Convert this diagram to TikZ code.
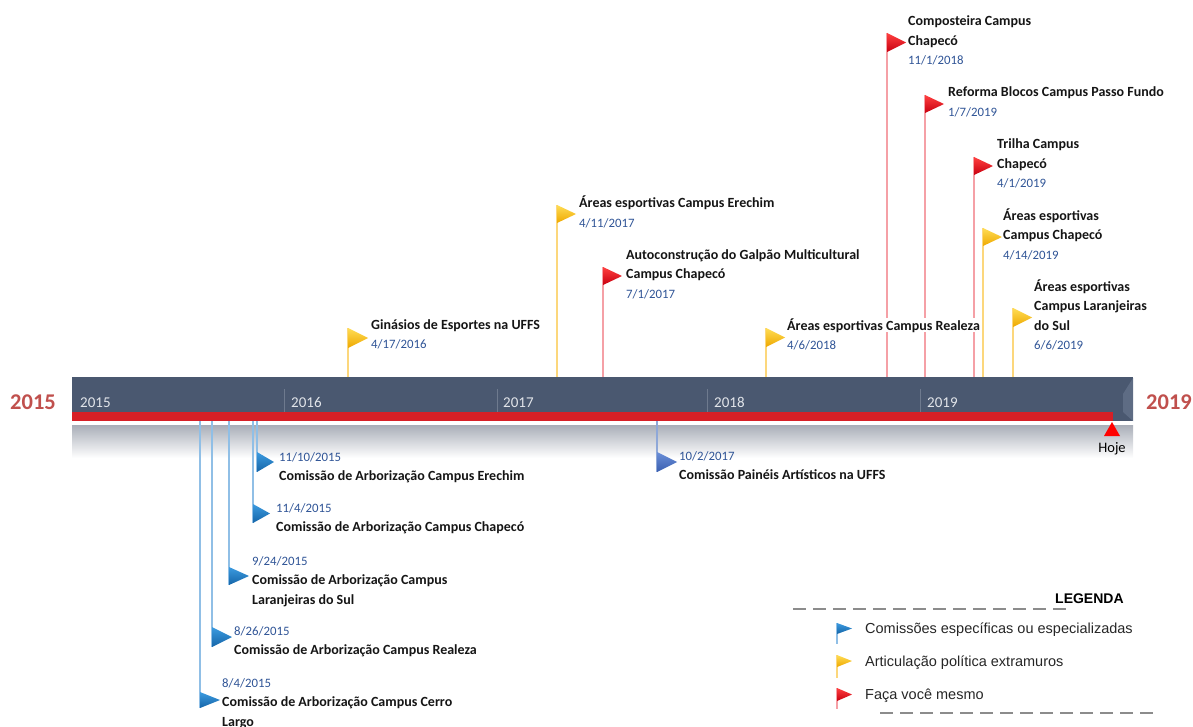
\documentclass[tikz,border=0pt]{standalone}
\usepackage{fontspec}
\setmainfont{Carlito}
\newfontfamily\arialf{Liberation Sans}
\pgfdeclarelayer{back}
\pgfdeclarelayer{stems}
\pgfsetlayers{back,stems,main}
\definecolor{barc}{HTML}{4A5870}
\definecolor{barlight}{HTML}{5E6C84}
\definecolor{redbar}{HTML}{D71F26}
\definecolor{datec}{HTML}{2F5496}
\definecolor{titc}{HTML}{151515}
\definecolor{bigred}{HTML}{C0504D}
\definecolor{yrtext}{HTML}{E2E5EA}
\definecolor{divc}{HTML}{6E7A8E}
\definecolor{bandtop}{HTML}{A9AEB8}
\definecolor{flagYt}{HTML}{FFDD55}
\definecolor{flagYb}{HTML}{EEA800}
\definecolor{flagRt}{HTML}{FF4040}
\definecolor{flagRb}{HTML}{C80010}
\definecolor{flagBt}{HTML}{3C9BE0}
\definecolor{flagBb}{HTML}{1565A8}
\definecolor{flagIt}{HTML}{6B8FD8}
\definecolor{flagIb}{HTML}{3A5FB0}
\definecolor{stemYc}{HTML}{FCD77C}
\definecolor{stemRc}{HTML}{F5A0A6}
\definecolor{stemBc}{HTML}{90BFE6}
\definecolor{stemIc}{HTML}{8FA8D8}
\definecolor{legdashc}{HTML}{8C8C8C}
\tikzset{
  flagY/.style={top color=flagYt, bottom color=flagYb},
  flagR/.style={top color=flagRt, bottom color=flagRb},
  flagB/.style={top color=flagBt, bottom color=flagBb},
  flagI/.style={top color=flagIt, bottom color=flagIb},
  stemY/.style={draw=stemYc, line width=1.2pt},
  stemR/.style={draw=stemRc, line width=1.2pt},
  stemB/.style={draw=stemBc, line width=1.2pt},
  stemI/.style={draw=stemIc, line width=1.2pt},
  ttl/.style={font=\fontsize{14}{19.5}\selectfont\bfseries, align=left, inner sep=0pt, anchor=base west, text=titc},
  ttlw/.style={ttl, fill=white},
  yrlbl/.style={font=\fontsize{15}{18}\selectfont, text=yrtext, inner sep=0pt, anchor=base west},
  bigyr/.style={font=\fontsize{22.5}{26}\selectfont\bfseries, text=bigred, inner sep=0pt},
  legtxt/.style={font=\arialf\fontsize{14.5}{17}\selectfont, text=black!85, inner sep=0pt, anchor=base west},
  legdash/.style={draw=legdashc, line width=2.6pt, dash pattern=on 13pt off 7pt},
}
\newcommand\dt[1]{{\fontsize{12.8}{19.5}\selectfont\mdseries\color{datec}#1}}
% flag: id, x, ytop, ybot, kind, width
\newcommand\flg[6]{%
  \shade[flag#5] (#2,#3) -- ({#2+#6},{(#3+#4)/2}) -- (#2,#4) -- cycle;
  \coordinate (#1top) at (#2,#3);
  \coordinate (#1bot) at (#2,#4);
}
\newcommand\stem[3]{\begin{pgfonlayer}{stems}\draw[#1] (#2) -- (#3);\end{pgfonlayer}}
\begin{document}
\begin{tikzpicture}[x=1pt,y=-1pt]
\useasboundingbox (0,0) rectangle (1193,727);
% gray band below bar
\begin{pgfonlayer}{back}
\shade[top color=bandtop, bottom color=white] (72,425) rectangle (1133,458);
\end{pgfonlayer}
% bar
\fill[barc] (72,377) rectangle (1133,421);
\fill[barlight] (1123,394) -- (1133,378) -- (1133,421) -- (1123,412) -- cycle;
\fill[redbar] (72,412) rectangle (1113,420.5);
% year dividers and labels
\foreach \xx/\yr in {284/2016,497/2017,707/2018,920/2019}{
  \draw[divc, line width=0.8pt] (\xx,389) -- (\xx,412);
}
\node[yrlbl] (y2015) at (80,407) {2015};
\node[yrlbl] (y2016) at (291,407) {2016};
\node[yrlbl] (y2017) at (503,407) {2017};
\node[yrlbl] (y2018) at (714,407) {2018};
\node[yrlbl] (y2019) at (927,407) {2019};
\node[bigyr, anchor=base west] (big2015) at (10,409) {2015};
\node[bigyr, anchor=base east] (big2019) at (1192,409) {2019};
% Hoje
\fill[red] (1112,422) -- (1120,436) -- (1104,436) -- cycle;
\node[font=\fontsize{14.5}{17}\selectfont, inner sep=0pt, anchor=base] (hoje) at (1112,452) {Hoje};

% ===== events above =====
\flg{e1}{348}{328}{348}{Y}{20}
\coordinate (e1bar) at (348,377);
\stem{stemY}{e1top}{e1bar}
\node[ttl] (t1) at (371,348.5) {Ginásios de Esportes na UFFS\\\dt{4/17/2016}};

\flg{e2}{557}{205}{223}{Y}{19}
\coordinate (e2bar) at (557,377);
\stem{stemY}{e2top}{e2bar}
\node[ttl] (t2) at (579,227.5) {Áreas esportivas Campus Erechim\\\dt{4/11/2017}};

\flg{e3}{603}{267}{285}{R}{19}
\coordinate (e3bar) at (603,377);
\stem{stemR}{e3top}{e3bar}
\node[ttl] (t3) at (626,298) {Autoconstrução do Galpão Multicultural\\Campus Chapecó\\\dt{7/1/2017}};

\flg{e4}{766}{328}{347}{Y}{19}
\coordinate (e4bar) at (766,377);
\stem{stemY}{e4top}{e4bar}
\node[ttlw] (t4) at (787,330) {Áreas esportivas Campus Realeza};
\node[ttl] (t4d) at (787,349.5) {\dt{4/6/2018}};

\flg{e5}{887}{33}{52}{R}{19}
\coordinate (e5bar) at (887,377);
\stem{stemR}{e5top}{e5bar}
\node[ttl] (t5) at (908,65) {Composteira Campus\\Chapecó\\\dt{11/1/2018}};

\flg{e6}{925}{95}{113}{R}{19}
\coordinate (e6bar) at (925,377);
\stem{stemR}{e6top}{e6bar}
\node[ttl] (t6) at (948,116.5) {Reforma Blocos Campus Passo Fundo\\\dt{1/7/2019}};

\flg{e7}{974}{157}{175}{R}{19}
\coordinate (e7bar) at (974,377);
\stem{stemR}{e7top}{e7bar}
\node[ttl] (t7) at (997,188) {Trilha Campus\\Chapecó\\\dt{4/1/2019}};

\flg{e8}{983}{228}{246}{Y}{19}
\coordinate (e8bar) at (983,377);
\stem{stemY}{e8top}{e8bar}
\node[ttl] (t8) at (1003,259) {Áreas esportivas\\Campus Chapecó\\\dt{4/14/2019}};

\flg{e9}{1013}{308}{327}{Y}{19}
\coordinate (e9bar) at (1013,377);
\stem{stemY}{e9top}{e9bar}
\node[ttl] (t9) at (1034,349.5) {Áreas esportivas\\Campus Laranjeiras\\do Sul\\\dt{6/6/2019}};

% ===== events below =====
\coordinate (b1bar) at (257,421);
\flg{b1}{257}{452}{472}{B}{17}
\stem{stemB}{b1bar}{b1bot}
\node[ttl] (u1) at (279,480.5) {\dt{11/10/2015}\\Comissão de Arborização Campus Erechim};

\coordinate (b2bar) at (253,421);
\flg{b2}{253}{504}{523}{B}{17}
\stem{stemB}{b2bar}{b2bot}
\node[ttl] (u2) at (276,531.5) {\dt{11/4/2015}\\Comissão de Arborização Campus Chapecó};

\coordinate (b3bar) at (229,421);
\flg{b3}{229}{567}{585}{B}{20}
\stem{stemB}{b3bar}{b3bot}
\node[ttl] (u3) at (252,604) {\dt{9/24/2015}\\Comissão de Arborização Campus\\Laranjeiras do Sul};

\coordinate (b4bar) at (212,421);
\flg{b4}{212}{627}{647}{B}{20}
\stem{stemB}{b4bar}{b4bot}
\node[ttl] (u4) at (234,654.5) {\dt{8/26/2015}\\Comissão de Arborização Campus Realeza};

\coordinate (b5bar) at (200,421);
\flg{b5}{200}{692}{708}{B}{20}
\stem{stemB}{b5bar}{b5bot}
\node[ttl] (u5) at (222,726) {\dt{8/4/2015}\\Comissão de Arborização Campus Cerro\\Largo};

\coordinate (b6bar) at (657,421);
\flg{b6}{657}{452}{472}{I}{20}
\stem{stemI}{b6bar}{b6bot}
\node[ttl] (u6) at (679,479.5) {\dt{10/2/2017}\\Comissão Painéis Artísticos na UFFS};

% ===== legend =====
\node[font=\arialf\fontsize{14}{17}\selectfont\bfseries, inner sep=0pt, anchor=base west] (legenda) at (1055,603) {LEGENDA};
\coordinate (ld1a) at (793,609); \coordinate (ld1b) at (1073,609);
\coordinate (ld2a) at (880,713); \coordinate (ld2b) at (1160,713);
\draw[legdash] (ld1a) -- (ld1b);
\draw[legdash] (ld2a) -- (ld2b);
\flg{l1}{837}{623}{634}{B}{15}
\coordinate (l1end) at (837,644);
\stem{stemB}{l1top}{l1end}
\node[legtxt] (lt1) at (865,633) {Comissões específicas ou especializadas};
\flg{l2}{837}{655}{667}{Y}{15}
\coordinate (l2end) at (837,678);
\stem{stemY}{l2top}{l2end}
\node[legtxt] (lt2) at (865,666) {Articulação política extramuros};
\flg{l3}{837}{688}{701}{R}{15}
\coordinate (l3end) at (837,709);
\stem{stemR}{l3top}{l3end}
\node[legtxt] (lt3) at (865,699) {Faça você mesmo};
\end{tikzpicture}
\end{document}
